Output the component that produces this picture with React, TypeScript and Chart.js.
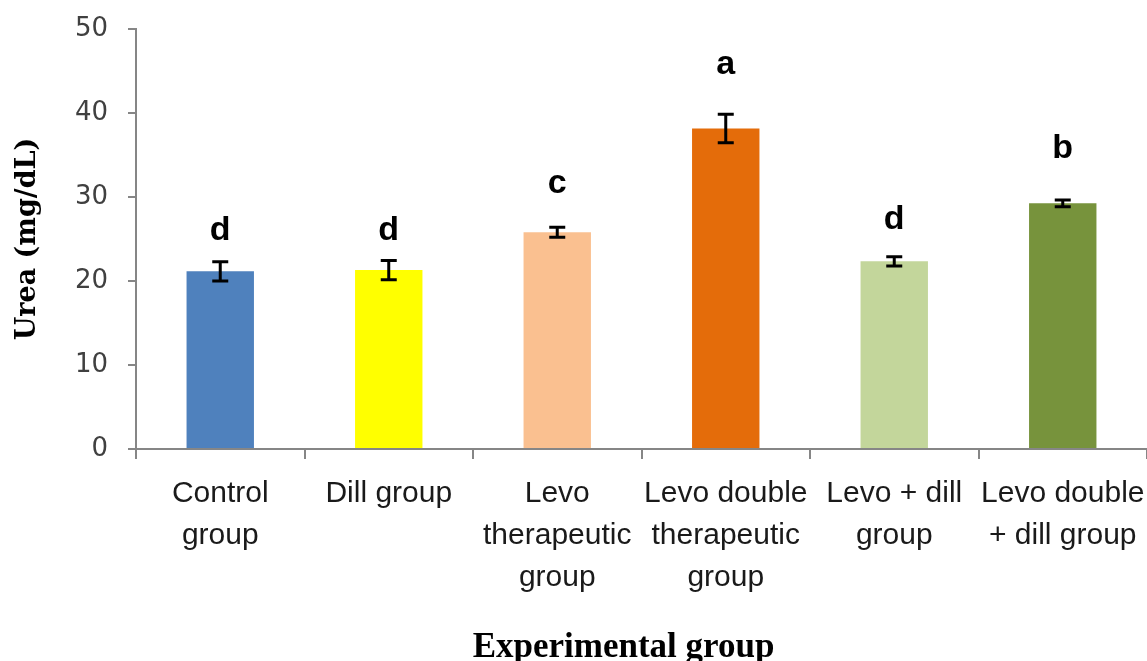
import React, { useEffect, useRef } from "react";
import { Chart, registerables } from "chart.js";

Chart.register(...registerables);

const categories: string[][] = [
  ["Control", "group"],
  ["Dill group"],
  ["Levo", "therapeutic", "group"],
  ["Levo double", "therapeutic", "group"],
  ["Levo + dill", "group"],
  ["Levo double", "+ dill group"],
];
const ureaMeans = [21.15, 21.3, 25.8, 38.15, 22.35, 29.25];
const ureaErrors = [1.15, 1.15, 0.6, 1.7, 0.55, 0.4];
const letters = ["d", "d", "c", "a", "d", "b"];
const letterY = [24.9, 24.9, 30.5, 44.6, 26.2, 34.7];
const barColors = ["#4F81BD", "#FFFF00", "#FAC090", "#E46C0A", "#C3D69B", "#77933C"];
const yTicks = [0, 10, 20, 30, 40, 50];
const xTitle = "Experimental group";
const yTitle = "Urea (mg/dL)";

const errorBarPlugin = {
  id: "errorBars",
  afterDatasetsDraw(chart: any) {
    const ctx = chart.ctx;
    const meta = chart.getDatasetMeta(0);
    const y = chart.scales.y;
    ctx.save();
    ctx.strokeStyle = "#000";
    ctx.lineWidth = 3;
    meta.data.forEach((bar: any, i: number) => {
      const x = bar.x;
      const top = y.getPixelForValue(ureaMeans[i] + ureaErrors[i]);
      const bot = y.getPixelForValue(ureaMeans[i] - ureaErrors[i]);
      ctx.beginPath();
      ctx.moveTo(x, top);
      ctx.lineTo(x, bot);
      ctx.moveTo(x - 8, top);
      ctx.lineTo(x + 8, top);
      ctx.moveTo(x - 8, bot);
      ctx.lineTo(x + 8, bot);
      ctx.stroke();
    });
    ctx.fillStyle = "#000";
    ctx.font = "bold 34px 'Liberation Sans', Arial, sans-serif";
    ctx.textAlign = "center";
    ctx.textBaseline = "alphabetic";
    meta.data.forEach((bar: any, i: number) => {
      ctx.fillText(letters[i], bar.x, y.getPixelForValue(letterY[i]));
    });
    ctx.restore();
  },
  afterDraw(chart: any) {
    const ctx = chart.ctx;
    const area = chart.chartArea;
    ctx.save();
    ctx.fillStyle = "#000";
    ctx.font = "bold 35px 'Liberation Serif', serif";
    ctx.textAlign = "center";
    ctx.textBaseline = "alphabetic";
    ctx.fillText(xTitle, (area.left + area.right) / 2 - 18, chart.height - 4);
    ctx.restore();
  },
};

export default function App() {
  const ref = useRef<HTMLCanvasElement | null>(null);
  useEffect(() => {
    if (!ref.current) return;
    const chart = new Chart(ref.current, {
      type: "bar",
      data: {
        labels: categories,
        datasets: [
          {
            data: ureaMeans,
            backgroundColor: barColors,
            borderWidth: 0,
            categoryPercentage: 1,
            barPercentage: 0.4,
          },
        ],
      },
      options: {
        animation: false,
        responsive: false,
        maintainAspectRatio: false,
        layout: { padding: { top: 29, right: 0, left: 0, bottom: 0 } },
        plugins: { legend: { display: false }, tooltip: { enabled: false } },
        scales: {
          x: {
            offset: true,
            grid: {
              offset: true,
              drawOnChartArea: false,
              tickLength: 10,
              color: "#868686",
              lineWidth: 2,
            },
            border: { color: "#868686", width: 2 },
            ticks: {
              color: "#1a1a1a",
              font: { family: "'Liberation Sans', sans-serif", size: 30, lineHeight: 1.4 },
              padding: 14,
              maxRotation: 0,
              minRotation: 0,
              autoSkip: false,
            },
            title: { display: false },
            afterFit(scale: any) {
              scale.height = 212;
              scale.paddingLeft = 0;
              scale.paddingRight = 0;
            },
          },
          y: {
            min: 0,
            max: 50,
            afterBuildTicks(scale: any) {
              scale.ticks = yTicks.map((v) => ({ value: v }));
            },
            grid: {
              drawOnChartArea: false,
              tickLength: 8,
              color: "#868686",
              lineWidth: 2,
            },
            border: { color: "#868686", width: 2 },
            ticks: {
              color: "#404040",
              font: { family: "'DejaVu Sans', sans-serif", size: 26 },
              padding: 20,
            },
            title: {
              display: true,
              text: yTitle,
              color: "#000",
              font: { family: "'DejaVu Serif', serif", size: 27, weight: "bold", lineHeight: 1.2 },
              padding: { top: 12, bottom: 0 },
            },
            afterFit(scale: any) {
              scale.width = 136;
              scale.paddingTop = 0;
              scale.paddingBottom = 0;
            },
          },
        },
      },
      plugins: [errorBarPlugin],
    } as any);
    return () => chart.destroy();
  }, []);
  return (
    <div style={{ position: "fixed", left: 0, top: 0, width: 1147, height: 661, background: "#fff" }}>
      <canvas ref={ref} width={1147} height={661} style={{ width: 1147, height: 661 }} />
    </div>
  );
}
